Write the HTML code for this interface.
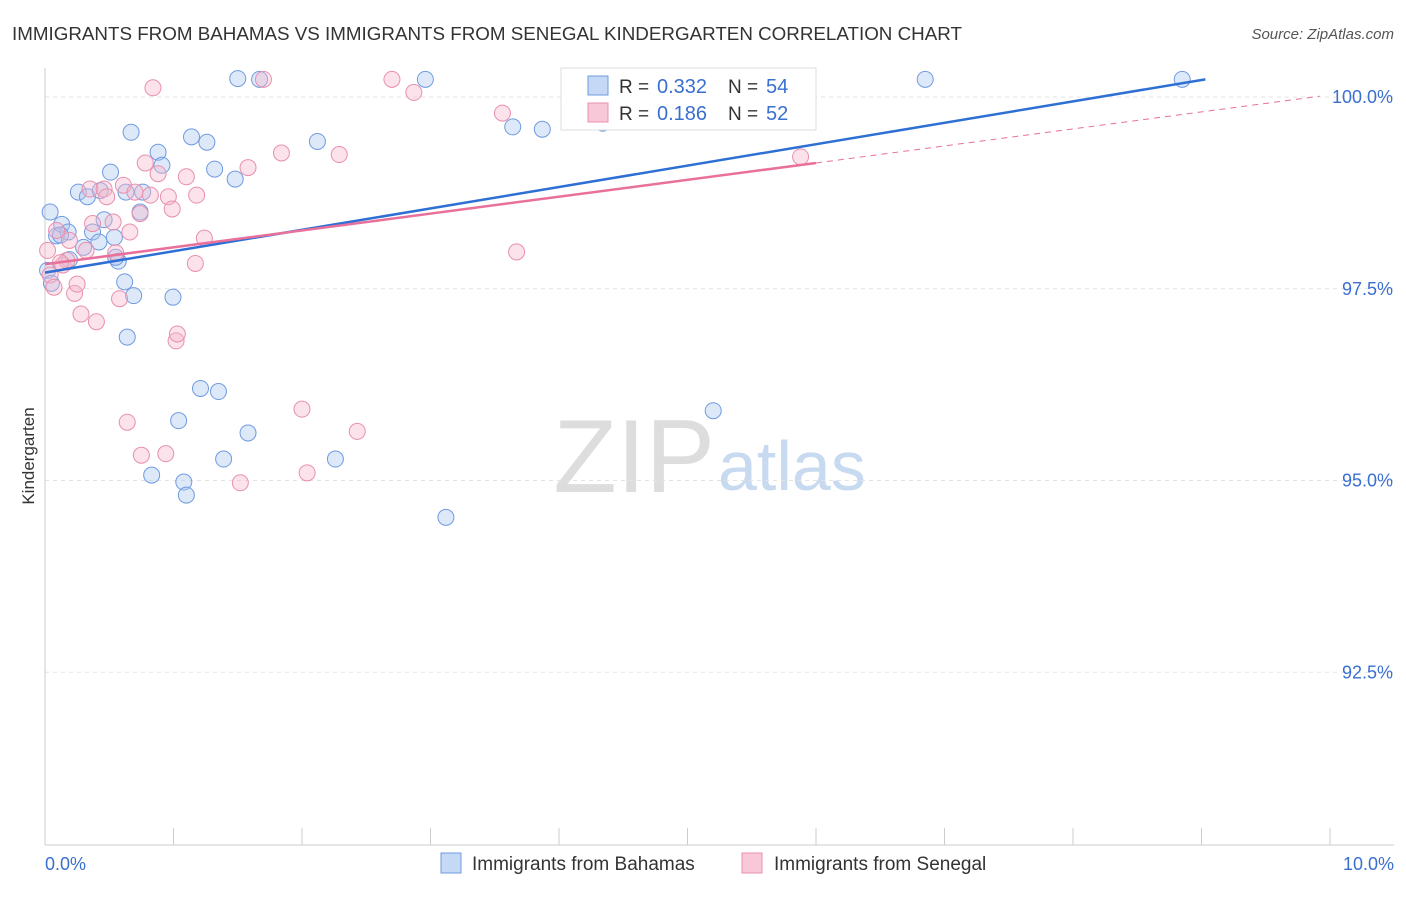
<!DOCTYPE html>
<html><head><meta charset="utf-8"><style>
body{margin:0;background:#fff;font-family:"Liberation Sans",sans-serif;}
svg text{font-family:"Liberation Sans",sans-serif;}
</style></head><body>
<svg width="1406" height="892" xmlns="http://www.w3.org/2000/svg">
<text x="12" y="40" font-size="18.8" fill="#333">IMMIGRANTS FROM BAHAMAS VS IMMIGRANTS FROM SENEGAL KINDERGARTEN CORRELATION CHART</text>
<text x="1394" y="39" font-size="15" fill="#555" font-style="italic" text-anchor="end">Source: ZipAtlas.com</text>
<text x="34" y="456" font-size="17" fill="#333" transform="rotate(-90 34 456)" text-anchor="middle">Kindergarten</text>
<text x="715" y="492" font-size="104" fill="#ddd" text-anchor="end" font-family="Liberation Serif">ZIP</text>
<text x="718" y="490" font-size="70" fill="#c8daf0">atlas</text>
<g id="grid"></g><g id="axes"></g><g id="pts"></g><g id="lines"></g>
<g>
<rect x="561" y="68" width="255" height="62" fill="#fff" stroke="#ddd"/>
<rect x="588" y="76" width="20" height="19" fill="#c5d8f5" stroke="#6f9be0"/>
<text x="619" y="93" font-size="19" fill="#333">R =</text>
<text x="657" y="93" font-size="20" fill="#3a6fd0">0.332</text>
<text x="728" y="93" font-size="19" fill="#333">N =</text>
<text x="766" y="93" font-size="20" fill="#3a6fd0">54</text>
<rect x="588" y="103" width="20" height="19" fill="#f8c8d8" stroke="#e890ae"/>
<text x="619" y="120" font-size="19" fill="#333">R =</text>
<text x="657" y="120" font-size="20" fill="#3a6fd0">0.186</text>
<text x="728" y="120" font-size="19" fill="#333">N =</text>
<text x="766" y="120" font-size="20" fill="#3a6fd0">52</text>
</g>
<g>
<rect x="441" y="853" width="20" height="20" fill="#c5d8f5" stroke="#6f9be0"/>
<text x="472" y="870" font-size="19" fill="#333">Immigrants from Bahamas</text>
<rect x="742" y="853" width="20" height="20" fill="#f8c8d8" stroke="#e890ae"/>
<text x="774" y="870" font-size="19" fill="#333">Immigrants from Senegal</text>
</g>
</svg>
<script>
const NS="http://www.w3.org/2000/svg";
const yTicks=[100,97.5,95,92.5];
const yTickLabels=["100.0%","97.5%","95.0%","92.5%"];
const bahamasX=[0.04,0.09,0.13,0.18,0.26,0.33,0.37,0.42,0.30,0.46,0.51,0.54,0.57,0.62,0.64,0.69,0.67,0.74,0.76,0.88,0.91,0.996,1.04,0.83,1.08,1.10,1.14,1.21,1.26,1.32,1.35,1.39,1.48,1.50,1.58,1.67,2.12,2.26,2.96,3.12,3.64,3.87,4.34,5.20,5.91,6.85,8.85,0.02,0.05,0.43,0.19,0.12,0.63,0.55];
const bahamasY=[98.50,98.19,98.34,98.24,98.76,98.70,98.24,98.11,98.04,98.40,99.02,98.17,97.86,97.59,96.87,97.41,99.54,98.50,98.76,99.28,99.11,97.39,95.78,95.07,94.98,94.81,99.48,96.20,99.41,99.06,96.16,95.28,98.93,100.24,95.62,100.23,99.42,95.28,100.23,94.52,99.61,99.58,99.66,95.91,100.23,100.23,100.23,97.74,97.57,98.78,97.88,98.20,98.76,97.91];
const senegalX=[0.04,0.07,0.09,0.14,0.17,0.23,0.25,0.28,0.32,0.35,0.37,0.40,0.46,0.48,0.53,0.55,0.58,0.61,0.64,0.66,0.70,0.74,0.75,0.78,0.82,0.84,0.88,0.94,0.96,0.99,1.02,1.03,1.10,1.18,1.17,1.24,1.52,1.58,1.70,1.84,2.00,2.04,2.29,2.43,2.70,2.87,3.56,3.67,5.88,0.02,0.12,0.19];
const senegalY=[97.68,97.52,98.26,97.81,97.87,97.44,97.56,97.17,98.00,98.80,98.35,97.07,98.80,98.70,98.37,97.97,97.37,98.85,95.76,98.24,98.76,98.48,95.33,99.14,98.72,100.12,99.00,95.35,98.70,98.54,96.82,96.91,98.96,98.72,97.83,98.16,94.97,99.08,100.23,99.27,95.93,95.10,99.25,95.64,100.23,100.06,99.79,97.98,99.22,98.00,97.84,98.13];
const bahamasTrendX=[0,9.03];
const bahamasTrendY=[97.71,100.23];
const senegalTrendX=[0,6.0,9.92];
const senegalTrendY=[97.82,99.14,100.01];
const X=v=>45+v*128.5, Y=v=>97+(100-v)*76.7;
function el(t,a,p){const e=document.createElementNS(NS,t);for(const k in a)e.setAttribute(k,a[k]);p.appendChild(e);return e;}
const g=document.getElementById('grid'),ax=document.getElementById('axes'),pts=document.getElementById('pts'),ln=document.getElementById('lines');
yTicks.forEach((t,i)=>{
const l=el('line',{x1:45,x2:1394,y1:Y(t),y2:Y(t),stroke:'#e3e3e3','stroke-dasharray':'4,4'},g);


const tx=el('text',{x:1393,y:Y(t)+6,'font-size':18,fill:'#3a6fd0','text-anchor':'end'},ax);tx.textContent=yTickLabels[i];


});
const xa=el('line',{x1:45,x2:1394,y1:845,y2:845,stroke:'#ccc'},ax);


const ya=el('line',{x1:45,x2:45,y1:68,y2:845,stroke:'#ccc'},ax);


for(let i=1;i<=10;i++){const t=el('line',{x1:X(i),x2:X(i),y1:828,y2:845,stroke:'#ccc'},ax);

}
const xl0=el('text',{x:45,y:870,'font-size':18,fill:'#3a6fd0'},ax);xl0.textContent='0.0%';


const xl1=el('text',{x:1394,y:870,'font-size':18,fill:'#3a6fd0','text-anchor':'end'},ax);xl1.textContent='10.0%';


function dots(xs,ys,fill,stroke,name){xs.forEach((x,i)=>{const c=el('circle',{cx:X(x),cy:Y(ys[i]),r:8,fill:fill,'fill-opacity':0.4,stroke:stroke,'stroke-width':1},pts);

});}
dots(bahamasX,bahamasY,'#aac6f0','#6f9be0','bahamas-point');
dots(senegalX,senegalY,'#f6b6cc','#e890ae','senegal-point');
const bl=el('line',{x1:X(bahamasTrendX[0]),y1:Y(bahamasTrendY[0]),x2:X(bahamasTrendX[1]),y2:Y(bahamasTrendY[1]),stroke:'#2e6fd6','stroke-width':2.5},ln);


const sl=el('line',{x1:X(senegalTrendX[0]),y1:Y(senegalTrendY[0]),x2:X(senegalTrendX[1]),y2:Y(senegalTrendY[1]),stroke:'#e8709a','stroke-width':2.5},ln);


const sd=el('line',{x1:X(senegalTrendX[1]),y1:Y(senegalTrendY[1]),x2:X(senegalTrendX[2]),y2:Y(senegalTrendY[2]),stroke:'#e8709a','stroke-width':1,'stroke-dasharray':'6,5'},ln);


</script>
</body></html>
